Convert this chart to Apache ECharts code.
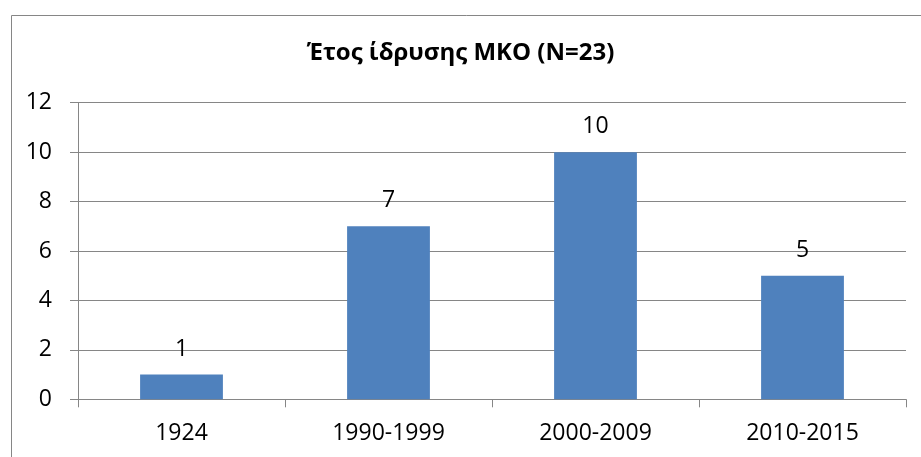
<!DOCTYPE html>
<html><head><meta charset="utf-8">
<script src="https://cdn.jsdelivr.net/npm/echarts@6/dist/echarts.min.js"></script>
<style>html,body{margin:0;padding:0;background:#fff}#c{width:921px;height:457px}</style>
</head><body><div id="c"></div>
<script>
const titleText = 'Έτος ίδρυσης ΜΚΟ (N=23)';
const categories = ['1924', '1990-1999', '2000-2009', '2010-2015'];
const values = [1, 7, 10, 5];
const yTicks = [0, 2, 4, 6, 8, 10, 12];

const font = '"Open Sans", "DejaVu Sans", sans-serif';
const chart = echarts.init(document.getElementById('c'), null, {renderer: 'canvas'});
chart.setOption({
  animation: false,
  backgroundColor: '#fff',
  graphic: [{
    type: 'rect', left: 9, top: 13, shape: {width: 930, height: 470},
    style: {fill: 'none', stroke: '#868686', lineWidth: 1}, silent: true
  }],
  title: {
    text: titleText, left: 'center', top: 36,
    textStyle: {fontFamily: font, fontWeight: 'bold', fontSize: 24, color: '#000'}
  },
  grid: {left: 78, right: 15, top: 102.7, bottom: 57.7, containLabel: false},
  xAxis: {
    type: 'category', data: categories,
    axisLine: {lineStyle: {color: '#868686', width: 1}},
    axisTick: {show: true, length: 8, lineStyle: {color: '#868686'}},
    axisLabel: {fontFamily: font, fontSize: 23, color: '#000', margin: 23}
  },
  yAxis: {
    type: 'value', min: yTicks[0], max: yTicks[yTicks.length - 1], interval: 2,
    axisLine: {show: true, lineStyle: {color: '#868686', width: 1}},
    axisTick: {show: true, length: 8, lineStyle: {color: '#868686'}},
    splitLine: {show: true, lineStyle: {color: '#868686', width: 1}},
    axisLabel: {fontFamily: font, fontSize: 23, color: '#000', margin: 26}
  },
  series: [{
    type: 'bar', data: values, barWidth: '40%',
    itemStyle: {color: '#4F81BD'},
    label: {show: true, position: 'top', distance: 14, fontFamily: font, fontSize: 23, color: '#000'}
  }]
});
</script></body></html>
